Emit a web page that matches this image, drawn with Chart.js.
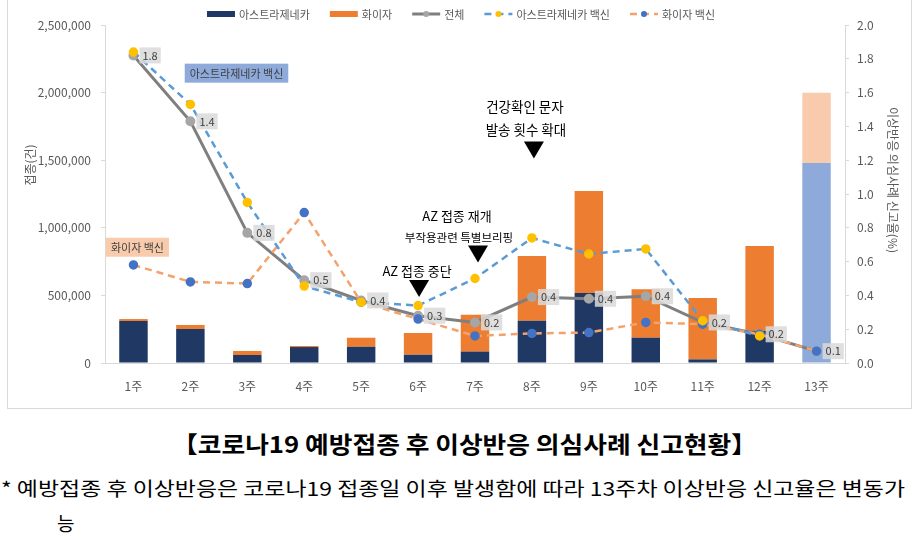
<!DOCTYPE html>
<html><head><meta charset="utf-8">
<script src="https://cdn.jsdelivr.net/npm/chart.js@4.4.0/dist/chart.umd.min.js"></script>
<style>
html,body{margin:0;padding:0;background:#fff;width:916px;height:540px;overflow:hidden;font-family:"Noto Sans CJK KR","Noto Sans",sans-serif;}
#box{position:absolute;left:7px;top:-1px;width:903px;height:408px;border:1px solid #d9d9d9;}
#c{display:block;}
.fit{position:absolute;white-space:nowrap;transform-origin:0 0;color:#000;}
#title{top:427px;font-weight:bold;font-size:23px;line-height:32px;}
#note{top:474px;font-size:19px;line-height:28px;}
#note2{top:509px;left:57px;font-size:19px;line-height:28px;}
</style></head>
<body>
<div id="box"><canvas id="c" width="903" height="408"></canvas></div>
<div id="title" class="fit" data-left="172" data-w="585">【코로나19 예방접종 후 이상반응 의심사례 신고현황】</div>
<div id="note" class="fit" data-left="1" data-w="904">* 예방접종 후 이상반응은 코로나19 접종일 이후 발생함에 따라 13주차 이상반응 신고율은 변동가</div>
<div id="note2" class="fit" style="left:57px">능</div>
<script>
// ---- data ----
const weeks = ['1주','2주','3주','4주','5주','6주','7주','8주','9주','10주','11주','12주','13주'];
const azDoses = [310000, 251000, 59000, 118000, 120000, 61000, 84000, 313000, 518000, 187000, 27000, 239000, 1479000];
const pfDoses = [15000, 30000, 30000, 8000, 67000, 161000, 273000, 478000, 754000, 358000, 454000, 626000, 520000];
const totalRate = [1.82, 1.43, 0.77, 0.49, 0.37, 0.28, 0.24, 0.39, 0.38, 0.395, 0.24, 0.17, 0.07];
const azRate = [1.84, 1.53, 0.95, 0.455, 0.36, 0.34, 0.50, 0.74, 0.645, 0.675, 0.25, 0.16, null];
const pfRate = [0.58, 0.48, 0.47, 0.89, 0.36, 0.26, 0.16, 0.175, 0.18, 0.24, 0.23, 0.17, 0.07];
const seriesNames = ['아스트라제네카','화이자','전체','아스트라제네카 백신','화이자 백신'];
const leftAxisTitle = '접종(건)';
const rightAxisTitle = '이상반응 의심사례 신고율(%)';

// fit text widths
document.querySelectorAll('.fit[data-w]').forEach(el=>{
  el.style.left = el.dataset.left+'px';
  const w = el.getBoundingClientRect().width;
  el.style.transform = 'scaleX('+(parseFloat(el.dataset.w)/w)+')';
});

const navy='#203864', orange='#ed7d31', navyLight='#8eaadb', orangeLight='#f8cbad';
const azBarColors = weeks.map((w,i)=> i===weeks.length-1 ? navyLight : navy);
const pfBarColors = weeks.map((w,i)=> i===weeks.length-1 ? orangeLight : orange);
const tickColor='#595959', axisColor='#d9d9d9';
const KFONT='"Noto Sans CJK KR","Noto Sans",sans-serif';

const overlay = {
  id:'overlay',
  afterDatasetsDraw(chart){
    const ctx=chart.ctx, x=chart.scales.x, y2=chart.scales.y2;
    ctx.save();
    // data labels for 전체
    const meta = chart.getDatasetMeta(2);
    ctx.font='11px '+KFONT;
    ctx.textBaseline='middle';
    meta.data.forEach((p,i)=>{
      const v = totalRate[i]; if(v==null) return;
      const t = v.toFixed(1);
      const w = ctx.measureText(t).width+6;
      ctx.fillStyle='rgba(217,217,217,0.85)';
      ctx.fillRect(p.x+6, p.y-8, w, 16);
      ctx.fillStyle='#404040';
      ctx.textAlign='left';
      ctx.fillText(t, p.x+9, p.y);
    });
    // label boxes
    function tagBox(text, cx, cy, bg){
      ctx.font='11px '+KFONT;
      const w = ctx.measureText(text).width+10;
      ctx.fillStyle=bg;
      ctx.fillRect(cx-w/2, cy-9.5, w, 19);
      ctx.fillStyle='#404040'; ctx.textAlign='center'; ctx.textBaseline='middle';
      ctx.fillText(text, cx, cy+0.5);
    }
    tagBox('아스트라제네카 백신', x.getPixelForValue(1.81), y2.getPixelForValue(1.715), '#8eaadb');
    tagBox('화이자 백신', x.getPixelForValue(0.07), y2.getPixelForValue(0.685), '#f8cbad');
    // annotations with triangles
    function tri(cx, tipY){
      ctx.fillStyle='#000';
      ctx.beginPath();
      ctx.moveTo(cx-10, tipY-17); ctx.lineTo(cx+10, tipY-17); ctx.lineTo(cx, tipY); ctx.closePath(); ctx.fill();
    }
    function txt(t, cx, cy, size){
      ctx.font=size+'px '+KFONT; ctx.fillStyle='#000'; ctx.textAlign='center'; ctx.textBaseline='middle';
      ctx.fillText(t, cx, cy);
    }
    let cx = x.getPixelForValue(5)+1, tip = y2.getPixelForValue(0.39);
    tri(cx, tip); txt('AZ 접종 중단', cx-2, tip-26, 13);
    cx = x.getPixelForValue(6)+3; tip = y2.getPixelForValue(0.595);
    tri(cx, tip); txt('부작용관련 특별브리핑', cx-19, tip-25, 11.5); txt('AZ 접종 재개', cx-21, tip-46, 13);
    cx = x.getPixelForValue(7)+2; tip = y2.getPixelForValue(1.21);
    tri(cx, tip); txt('발송 횟수 확대', cx-8, tip-29, 13.5); txt('건강확인 문자', cx-9, tip-52, 13.5);
    ctx.restore();
  },
  afterDraw(chart){
    const ctx=chart.ctx;
    ctx.save();
    // axis titles
    ctx.font='12px '+KFONT; ctx.fillStyle=tickColor; ctx.textAlign='center'; ctx.textBaseline='middle';
    ctx.save(); ctx.translate(22,165); ctx.rotate(-Math.PI/2); ctx.fillText(leftAxisTitle,0,0); ctx.restore();
    ctx.save(); ctx.translate(885,180); ctx.rotate(Math.PI/2); ctx.fillText(rightAxisTitle,0,0); ctx.restore();
    // legend
    ctx.font='11px '+KFONT; ctx.textBaseline='middle'; ctx.textAlign='left';
    const ds = chart.data.datasets;
    const sym=28, gap=4, igap=20;
    const widths = seriesNames.map(n=>sym+gap+ctx.measureText(n).width);
    const total = widths.reduce((a,b)=>a+b,0)+igap*(widths.length-1);
    let lx = 453 - total/2; const ly=14;
    seriesNames.forEach((n,i)=>{
      if(i<2){
        ctx.fillStyle = i===0?navy:orange;
        ctx.fillRect(lx, ly-3, sym, 6);
      } else {
        const d = ds[i];
        ctx.strokeStyle=d.borderColor; ctx.lineWidth=d.borderWidth;
        ctx.setLineDash(d.borderDash||[]);
        ctx.beginPath(); ctx.moveTo(lx,ly); ctx.lineTo(lx+sym,ly); ctx.stroke();
        ctx.setLineDash([]);
        ctx.fillStyle=d.pointBackgroundColor;
        ctx.beginPath(); ctx.arc(lx+sym/2, ly, 3, 0, Math.PI*2); ctx.fill();
      }
      ctx.fillStyle=tickColor;
      ctx.fillText(n, lx+sym+gap, ly+0.5);
      lx += widths[i]+igap;
    });
    ctx.restore();
  }
};

new Chart(document.getElementById('c'), {
  type:'bar',
  data:{
    labels: weeks,
    datasets:[
      {type:'bar', label:seriesNames[0], data:azDoses, backgroundColor:azBarColors, yAxisID:'y', order:10, barPercentage:0.5, categoryPercentage:1.0},
      {type:'bar', label:seriesNames[1], data:pfDoses, backgroundColor:pfBarColors, yAxisID:'y', order:10, barPercentage:0.5, categoryPercentage:1.0},
      {type:'line', label:seriesNames[2], data:totalRate, yAxisID:'y2', borderColor:'#7f7f7f', borderWidth:3, pointRadius:3.5, pointBackgroundColor:'#a6a6a6', pointBorderColor:'#a6a6a6', tension:0, order:3},
      {type:'line', label:seriesNames[3], data:azRate, yAxisID:'y2', borderColor:'#5b9bd5', borderWidth:2.5, borderDash:[7,5], pointRadius:3.5, pointBackgroundColor:'#ffc000', pointBorderColor:'#ffc000', tension:0, order:1},
      {type:'line', label:seriesNames[4], data:pfRate, yAxisID:'y2', borderColor:'#f4a26c', borderWidth:2.5, borderDash:[7,5], pointRadius:3.5, pointBackgroundColor:'#4472c4', pointBorderColor:'#4472c4', tension:0, order:2}
    ]
  },
  options:{
    responsive:false, animation:false, devicePixelRatio:1,
    layout:{padding:{top:25,left:0,right:0,bottom:0}},
    plugins:{legend:{display:false}, tooltip:{enabled:false}, title:{display:false}},
    scales:{
      x:{stacked:true, offset:true, grid:{display:false}, border:{color:axisColor},
         ticks:{color:tickColor, font:{size:12,family:KFONT}, padding:8},
         afterFit(s){s.height=45;}},
      y:{stacked:true, position:'left', min:0, max:2500000,
         ticks:{stepSize:500000, color:tickColor, font:{size:12,family:KFONT}, padding:10, callback:v=>v.toLocaleString('en-US')},
         grid:{display:true, drawOnChartArea:false, tickLength:4, color:axisColor}, border:{color:axisColor},
         afterFit(s){s.width=97;}},
      y2:{stacked:false, position:'right', min:0, max:2,
         ticks:{stepSize:0.2, color:tickColor, font:{size:12,family:KFONT}, padding:8, callback:v=>v.toFixed(1)},
         grid:{display:true, drawOnChartArea:false, tickLength:4, color:axisColor}, border:{color:axisColor},
         afterFit(s){s.width=66;}}
    }
  },
  plugins:[overlay]
});
</script>
</body></html>
